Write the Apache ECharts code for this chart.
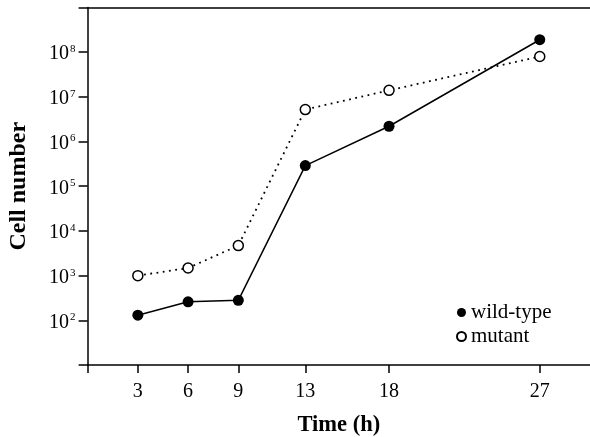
<!DOCTYPE html>
<html>
<head>
<meta charset="utf-8">
<script src="https://cdn.jsdelivr.net/npm/echarts@6/dist/echarts.min.js"></script>
<style>
  html, body { margin: 0; padding: 0; background: #fff; }
  #chart { width: 590px; height: 437px; }
</style>
</head>
<body>
<div id="chart"></div>
<script>
const hours = [3, 6, 9, 13, 18, 27]
const wildType = [130, 260, 280, 2.9e5, 2.2e6, 1.9e8]
const mutant = [1000, 1480, 4700, 5.2e6, 1.4e7, 8e7]
const xTickValues = [0, 3, 6, 9, 13, 18, 27]
const xLabelValues = [3, 6, 9, 13, 18, 27]

const pairs = (xs, ys) => xs.map((x, i) => [x, ys[i]])
const serif = '"Liberation Serif", "DejaVu Serif", serif'

const chart = echarts.init(document.getElementById('chart'))
chart.setOption({
  animation: false,
  textStyle: { fontFamily: serif, color: '#000' },
  grid: { left: 87.6, right: 0, top: 7.5, bottom: 72, containLabel: false, outerBoundsMode: 'none' },
  legend: {
    orient: 'vertical',
    left: 451,
    top: 297,
    icon: 'circle',
    itemWidth: 9,
    itemHeight: 9,
    itemGap: 3,
    textStyle: { fontFamily: serif, fontSize: 21, color: '#000' },
    data: ['wild-type', 'mutant'],
  },
  xAxis: [
    {
      type: 'value',
      min: 0,
      max: 30,
      name: 'Time (h)',
      nameLocation: 'middle',
      nameGap: 49,
      nameTextStyle: { fontFamily: serif, fontSize: 22.5, fontWeight: 'bold', color: '#000' },
      axisLine: { lineStyle: { color: '#000', width: 1.5 } },
      axisTick: { customValues: xTickValues, length: 8, lineStyle: { color: '#000', width: 1.5 } },
      axisLabel: { customValues: xLabelValues, fontSize: 20, color: '#000', margin: 17 },
      splitLine: { show: false },
    },
    {
      type: 'value',
      position: 'top',
      min: 0,
      max: 30,
      axisLine: { show: true, lineStyle: { color: '#000', width: 1.5 } },
      axisTick: { show: false },
      axisLabel: { show: false },
      splitLine: { show: false },
    },
  ],
  yAxis: {
    type: 'log',
    logBase: 10,
    min: 10,
    max: 1e9,
    name: 'Cell number',
    nameLocation: 'middle',
    nameGap: 57,
    nameTextStyle: { fontFamily: serif, fontSize: 24, fontWeight: 'bold', color: '#000' },
    axisLine: { show: true, lineStyle: { color: '#000', width: 1.5 } },
    axisTick: { length: 9, lineStyle: { color: '#000', width: 1.5 } },
    axisLabel: {
      margin: 12,
      formatter: (v) => {
        const e = Math.round(Math.log10(v))
        if (e <= 1 || e >= 9) return ''
        return '{b|10}{s|' + e + '}'
      },
      rich: {
        b: { fontFamily: serif, fontSize: 20, color: '#000', padding: [4, 0, 0, 0] },
        s: { fontFamily: serif, fontSize: 11, color: '#000', padding: [0, 0, 6, 1] },
      },
    },
    splitLine: { show: false },
  },
  series: [
    {
      name: 'wild-type',
      type: 'line',
      data: pairs(hours, wildType),
      symbol: 'circle',
      symbolSize: 11,
      itemStyle: { color: '#000' },
      lineStyle: { color: '#000', width: 1.5 },
      z: 3,
    },
    {
      name: 'mutant',
      type: 'line',
      data: pairs(hours, mutant),
      symbol: 'circle',
      symbolSize: 10,
      itemStyle: { color: '#fff', borderColor: '#000', borderWidth: 1.5 },
      lineStyle: { color: '#000', width: 1.8, type: [1.8, 4.5] },
      z: 2,
    },
  ],
})
</script>
</body>
</html>
